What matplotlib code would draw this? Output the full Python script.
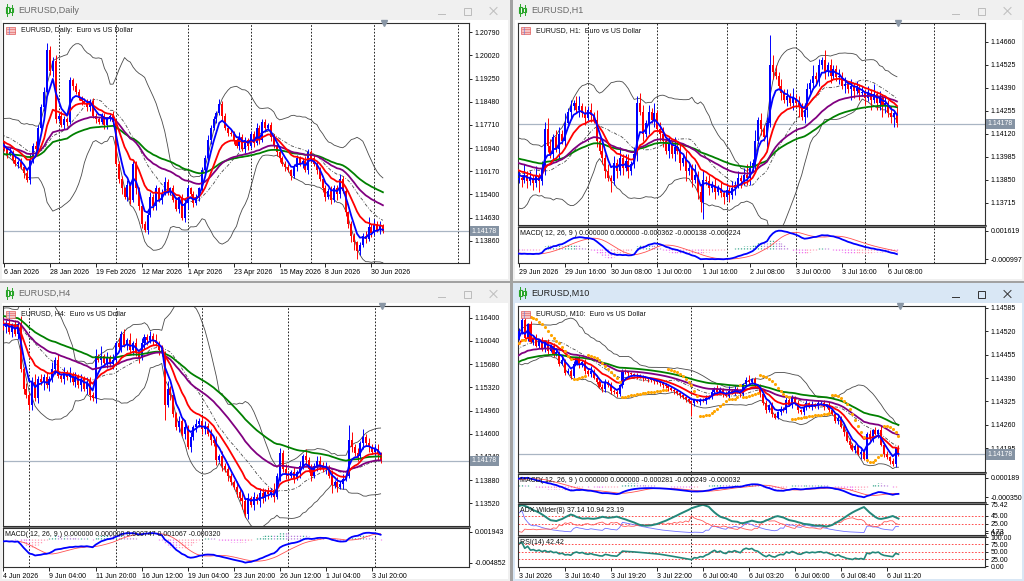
## EURUSD four-window terminal layout (Daily, H1, H4, M10)

import matplotlib
matplotlib.use('Agg')
import matplotlib.pyplot as plt
import matplotlib.transforms as mtransforms
from matplotlib.patches import Rectangle
import numpy as np
import pandas as pd

plt.rcParams['font.family'] = ['Liberation Sans', 'DejaVu Sans']

W, H = 1024, 581
PRICE_NOW = 1.14178

## Daily bars, closes in pips (1 pip = 0.0001), history before first visible bar
d1_hist = [11560, 11585, 11570, 11600, 11590, 11620, 11610, 11640, 11625, 11650,
           11630, 11660, 11655, 11680, 11670, 11700, 11690, 11710, 11700, 11735,
           11720, 11760, 11740, 11780, 11770, 11750, 11790, 11760, 11740, 11720,
           11700, 11730, 11760, 11745, 11720, 11700, 11730, 11710, 11695, 11705]
d1_close = [11690, 11672, 11680, 11655, 11640, 11648, 11630, 11612, 11588, 11655,
            11700, 11690, 11760, 11830, 11880, 12020, 11950, 11985, 11790, 11800,
            11770, 11790, 11780, 11920, 11900, 11880, 11860, 11850, 11845, 11830,
            11850, 11800, 11790, 11780, 11800, 11770, 11790, 11800, 11780, 11640,
            11590, 11560, 11530, 11570, 11520, 11640, 11560, 11500, 11440, 11420,
            11470, 11530, 11500, 11560, 11520, 11545, 11580, 11550, 11560, 11520,
            11490, 11530, 11460, 11510, 11560, 11540, 11510, 11530, 11560, 11620,
            11660, 11720, 11760, 11790, 11810, 11840, 11800, 11760, 11745, 11740,
            11720, 11700, 11730, 11690, 11720, 11700, 11740, 11710, 11760, 11720,
            11780, 11760, 11770, 11730, 11700, 11680, 11660, 11640, 11630, 11620,
            11600, 11630, 11660, 11640, 11650, 11620, 11680, 11660, 11640, 11620,
            11590, 11560, 11530, 11550, 11520, 11560, 11540, 11590, 11550, 11480,
            11440, 11400, 11380, 11350, 11370, 11400, 11390, 11430, 11410, 11440,
            11420, 11435, 11418]
d1_wick_up = "2131212123 2322342232 3212122122 1221221232 2213222122 2322123212 2123212212 2322132212 2132212232 2212212122 1221232122 2122322322 1221223623 231"
d1_wick_dn = "1212121312 2121212321 1221211212 2121122121 2312213221 2122121221 1212312122 1221212121 2121221212 1212122121 2121212212 1221213212 2344212121 121"
d1_yticks = [1.20790, 1.20020, 1.19250, 1.18480, 1.17710, 1.16940, 1.16170, 1.15400, 1.14630, 1.13860]
d1_dates = ['6 Jan 2026', '28 Jan 2026', '19 Feb 2026', '12 Mar 2026', '1 Apr 2026',
            '23 Apr 2026', '15 May 2026', '8 Jun 2026', '30 Jun 2026']
d1_grid = [19, 39, 64, 86, 107, 129, 158]

## H1 bars, closes in pips
h1_hist = [11405, 11412, 11420, 11415, 11402, 11395, 11380, 11372, 11368, 11375,
           11385, 11393, 11400, 11410, 11404, 11396, 11390, 11382, 11386, 11394,
           11398, 11392, 11388, 11385]
h1_close = [11386, 11385, 11388, 11384, 11386, 11383, 11387, 11384, 11392, 11415,
            11405, 11400, 11410, 11403, 11412, 11408, 11418, 11425, 11428, 11430,
            11426, 11428, 11424, 11421, 11426, 11423, 11420, 11408, 11402, 11398,
            11390, 11386, 11384, 11395, 11390, 11398, 11392, 11396, 11390, 11394,
            11400, 11430, 11425, 11412, 11418, 11425, 11420, 11424, 11415, 11412,
            11408, 11402, 11406, 11400, 11404, 11402, 11395, 11398, 11390, 11392,
            11385, 11388, 11378, 11372, 11385, 11384, 11380, 11382, 11378, 11380,
            11377, 11375, 11379, 11376, 11380, 11382, 11386, 11384, 11388, 11386,
            11392, 11395, 11408, 11420, 11415, 11410, 11418, 11452, 11448, 11446,
            11440, 11436, 11432, 11434, 11430, 11433, 11430, 11428, 11422, 11426,
            11438, 11442, 11446, 11444, 11452, 11455, 11448, 11452, 11446, 11450,
            11445, 11446, 11440, 11441, 11438, 11440, 11437, 11439, 11436, 11436,
            11433, 11436, 11432, 11435, 11430, 11433, 11428, 11430, 11424, 11422,
            11424, 11418]
h1_wick_up = "2131213122 3212213121 2312121312 1212131221 2232121312 2121312121 1312312121 2121212123 2131212932 1212131212 2131213121 1212121212 1213121212 12"
h1_wick_dn = "1212121312 2121312121 1212121212 2131212121 1212131212 2121212131 2123512121 1212121212 2121213121 1212121312 2121212121 1212132121 2131223212 31"
h1_yticks = [1.14660, 1.14525, 1.14390, 1.14255, 1.14120, 1.13985, 1.13850, 1.13715]
h1_dates = ['29 Jun 2026', '29 Jun 16:00', '30 Jun 08:00', '1 Jul 00:00', '1 Jul 16:00',
            '2 Jul 08:00', '3 Jul 00:00', '3 Jul 16:00', '6 Jul 08:00']
h1_grid = [24, 48, 72, 96, 120, 144]

## H4 bars, closes in pips
h4_hist = [11660, 11650, 11665, 11640, 11655, 11670, 11650, 11635, 11645, 11660,
           11640, 11620, 11630, 11600, 11610, 11625, 11640, 11650, 11630, 11615,
           11605, 11620, 11640, 11650, 11635, 11645, 11630, 11620, 11635, 11628]
h4_close = [11625, 11632, 11618, 11628, 11615, 11630, 11560, 11530, 11520, 11505,
            11540, 11515, 11545, 11540, 11548, 11535, 11545, 11560, 11575, 11550,
            11545, 11555, 11548, 11552, 11540, 11548, 11535, 11545, 11530, 11540,
            11520, 11515, 11580, 11575, 11580, 11570, 11578, 11568, 11575, 11600,
            11595, 11615, 11598, 11605, 11590, 11600, 11585, 11578, 11600, 11610,
            11605, 11612, 11606, 11600, 11590, 11585, 11505, 11530, 11520, 11490,
            11470, 11480, 11460, 11470, 11440, 11455, 11470, 11475, 11480, 11468,
            11472, 11460, 11450, 11445, 11420, 11425, 11410, 11405, 11395, 11385,
            11378, 11370, 11360, 11355, 11335, 11360, 11350, 11362, 11355, 11368,
            11360, 11370, 11366, 11372, 11362, 11395, 11430, 11405, 11398, 11395,
            11400, 11392, 11400, 11410, 11425, 11420, 11405, 11395, 11410, 11418,
            11412, 11405, 11408, 11395, 11380, 11385, 11378, 11382, 11390, 11395,
            11450, 11440, 11430, 11425, 11445, 11455, 11445, 11440, 11432, 11436,
            11428, 11418]
h4_wick_up = "2131213121 2312121312 1213121212 2131412121 2121312121 1212121312 1213121212 2121312121 1212121212 2121312121 1212131212 2121212121 6312131212 21"
h4_wick_dn = "1212121212 2121312121 1212121212 2121212121 1212121212 2121216121 1212121212 2121212121 1213121212 2121212121 1212121212 2121312121 1212121212 21"
h4_yticks = [1.16400, 1.16040, 1.15680, 1.15320, 1.14960, 1.14600, 1.14240, 1.13880, 1.13520]
h4_dates = ['4 Jun 2026', '9 Jun 04:00', '11 Jun 20:00', '16 Jun 12:00', '19 Jun 04:00',
            '23 Jun 20:00', '26 Jun 12:00', '1 Jul 04:00', '3 Jul 20:00']
h4_grid = [9, 39, 69, 99, 129]

## M10 bars, closes in points (1 point = 0.00001)
m10_hist = [114380, 114392, 114386, 114400, 114412, 114405, 114418, 114426, 114420, 114434,
            114440, 114436, 114448, 114455, 114446, 114458, 114462, 114452, 114460, 114470,
            114462, 114475, 114480, 114468, 114478, 114490, 114482, 114495, 114505, 114500]
m10_close = [114520, 114550, 114500, 114540, 114490, 114500, 114480, 114495, 114470, 114490,
             114465, 114480, 114455, 114462, 114430, 114440, 114405, 114410, 114395, 114430,
             114445, 114425, 114435, 114410, 114400, 114410, 114390, 114380, 114365, 114360,
             114380, 114370, 114355, 114350, 114345, 114370, 114410, 114406, 114404, 114401,
             114399, 114396, 114394, 114391, 114389, 114386, 114384, 114381, 114378, 114375,
             114371, 114367, 114363, 114358, 114353, 114348, 114343, 114337, 114331, 114326,
             114320, 114328, 114324, 114330, 114327, 114335, 114340, 114352, 114362, 114350,
             114358, 114345, 114340, 114355, 114350, 114360, 114352, 114345, 114372, 114385,
             114378, 114386, 114370, 114365, 114345, 114320, 114300, 114315, 114290, 114280,
             114295, 114305, 114300, 114330, 114315, 114335, 114320, 114300, 114295, 114310,
             114320, 114310, 114318, 114312, 114320, 114322, 114310, 114315, 114300, 114290,
             114270, 114280, 114255, 114240, 114215, 114205, 114190, 114200, 114180, 114185,
             114165, 114235, 114220, 114245, 114235, 114245, 114205, 114180, 114170, 114160,
             114150, 114195, 114178]
m10_wick_up = "2321213121 2123121212 1212131212 2121211111 1111111111 1111111111 1111121212 2123121212 3121212121 1212121212 2121212121 1212121212 2131213121 212"
m10_wick_dn = "1212121212 2121212121 1212121212 2121212121 1212121212 2121212121 9212121212 1212121212 2121212121 1212121212 2121212121 1213121214 1212131212 121"
m10_yticks = [1.14585, 1.14520, 1.14455, 1.14390, 1.14325, 1.14260, 1.14195]
m10_dates = ['3 Jul 2026', '3 Jul 16:40', '3 Jul 19:20', '3 Jul 22:00', '6 Jul 00:40',
             '6 Jul 03:20', '6 Jul 06:00', '6 Jul 08:40', '6 Jul 11:20']
m10_grid = [60]


## Bars and indicators
def make_bars(hist, close, wick_up, wick_dn, unit, scale):
    c = np.array(hist + close, dtype=float) / scale
    o = np.r_[c[0], c[:-1]]
    wu = np.r_[np.zeros(len(hist)), [int(v) for v in wick_up.replace(' ', '')]] * unit / scale
    wd = np.r_[np.zeros(len(hist)), [int(v) for v in wick_dn.replace(' ', '')]] * unit / scale
    df = pd.DataFrame({'o': o, 'c': c,
                       'h': np.maximum(o, c) + wu, 'l': np.minimum(o, c) - wd},
                      index=np.arange(len(c)) - len(hist))
    cl = df['c']
    for n in (5, 13, 34, 55):
        df['ema%d' % n] = cl.ewm(span=n, adjust=False).mean()
    df['mid'] = cl.rolling(20, min_periods=1).mean()
    sd = cl.rolling(20, min_periods=1).std(ddof=0)
    df['bb_up'] = df['mid'] + 2 * sd
    df['bb_dn'] = df['mid'] - 2 * sd
    df['macd'] = cl.ewm(span=12, adjust=False).mean() - cl.ewm(span=26, adjust=False).mean()
    df['signal'] = df['macd'].rolling(9, min_periods=1).mean()
    df['hist'] = df['macd'] - df['signal']
    return df


def psar(h, l, step=0.02, top=0.2):
    n = len(h)
    sar = np.zeros(n)
    bull, af, ep = True, step, h[0]
    sar[0] = l[0]
    for i in range(1, n):
        s = sar[i - 1] + af * (ep - sar[i - 1])
        if bull:
            s = min(s, l[i - 1], l[max(i - 2, 0)])
            if l[i] < s:
                bull, s, ep, af = False, ep, l[i], step
            elif h[i] > ep:
                ep, af = h[i], min(af + step, top)
        else:
            s = max(s, h[i - 1], h[max(i - 2, 0)])
            if h[i] > s:
                bull, s, ep, af = True, ep, h[i], step
            elif l[i] < ep:
                ep, af = l[i], min(af + step, top)
        sar[i] = s
    return sar


def adx_wilder(df, n=8):
    h, l, c = df['h'], df['l'], df['c']
    up = h.diff()
    dn = -l.diff()
    pdm = pd.Series(np.where((up > dn) & (up > 0), up, 0.0), index=df.index)
    ndm = pd.Series(np.where((dn > up) & (dn > 0), dn, 0.0), index=df.index)
    tr = pd.concat([h - l, (h - c.shift()).abs(), (l - c.shift()).abs()], axis=1).max(axis=1)
    a = 1.0 / n
    atr = tr.ewm(alpha=a, adjust=False).mean()
    pdi = 100 * pdm.ewm(alpha=a, adjust=False).mean() / atr
    ndi = 100 * ndm.ewm(alpha=a, adjust=False).mean() / atr
    dx = 100 * (pdi - ndi).abs() / (pdi + ndi).replace(0, np.nan)
    adx = dx.fillna(0).ewm(alpha=a, adjust=False).mean()
    return adx, pdi, ndi


def rsi(c, n=14):
    d = c.diff()
    g = d.clip(lower=0).ewm(alpha=1.0 / n, adjust=False).mean()
    ls = (-d.clip(upper=0)).ewm(alpha=1.0 / n, adjust=False).mean()
    return 100 - 100 / (1 + g / ls.replace(0, np.nan))


d1 = make_bars(d1_hist, d1_close, d1_wick_up, d1_wick_dn, 6, 1e4)
h1 = make_bars(h1_hist, h1_close, h1_wick_up, h1_wick_dn, 2, 1e4)
h4 = make_bars(h4_hist, h4_close, h4_wick_up, h4_wick_dn, 4, 1e4)
m10 = make_bars(m10_hist, m10_close, m10_wick_up, m10_wick_dn, 4, 1e5)

## Figure, window frames
fig = plt.figure(figsize=(W / 100, H / 100), dpi=100)
bg = fig.add_axes([0, 0, 1, 1])
bg.set_xlim(0, W)
bg.set_ylim(H, 0)
bg.axis('off')
bg.add_patch(Rectangle((0, 0), W, H, facecolor='#a2a2a2', edgecolor='none'))


def window(x0, y0, x1, y1, title, active=False):
    bar = '#d9e7f5' if active else '#f0f0f0'
    btn = '#333333' if active else '#bcbcbc'
    bg.add_patch(Rectangle((x0, y0), x1 - x0, y1 - y0, facecolor=bar, edgecolor='none'))
    bg.add_patch(Rectangle((x0 + 2, y0 + 20), x1 - x0 - 4, y1 - y0 - 22,
                           facecolor='white', edgecolor='none'))
    g = '#28a428'
    for dx, (t, b, bt, bb) in ((7, (4, 16, 7, 13)), (11.5, (5, 15, 8, 12))):
        bg.plot([x0 + dx, x0 + dx], [y0 + t, y0 + b], color=g, lw=0.7)
        bg.add_patch(Rectangle((x0 + dx - 1.5, y0 + bt), 3, bb - bt,
                               facecolor='white', edgecolor=g, lw=0.8))
    bg.text(x0 + 18, y0 + 10.5, title, fontsize=6.5, va='center',
            color='#222222' if active else '#6a6a6a')
    cy = y0 + 11
    bg.plot([x1 - 72, x1 - 65], [cy + 3, cy + 3], color=btn, lw=0.7)
    bg.add_patch(Rectangle((x1 - 46, cy - 3.5), 7, 7, fill=False, edgecolor=btn, lw=0.7))
    bg.plot([x1 - 20, x1 - 13], [cy - 3.5, cy + 3.5], color=btn, lw=0.7)
    bg.plot([x1 - 20, x1 - 13], [cy + 3.5, cy - 3.5], color=btn, lw=0.7)


window(0, 0, 510, 281, 'EURUSD,Daily')
window(513, 0, 1024, 281, 'EURUSD,H1')
window(0, 283, 510, 581, 'EURUSD,H4')
window(513, 283, 1024, 581, 'EURUSD,M10', active=True)

# separators between main chart and indicator sub-windows
for x0, x1, ya, yb in ((518, 987, 225, 227), (3, 471, 526, 528),
                       (518, 987, 472, 474), (518, 987, 502, 504), (518, 987, 535, 537)):
    bg.add_patch(Rectangle((x0, ya), x1 - x0, yb - ya, facecolor='#7a7a7a', edgecolor='none'))


def px_axes(x0, y0, x1, y1, xlim, grid):
    ax = fig.add_axes([x0 / W, 1 - y1 / H, (x1 - x0) / W, (y1 - y0) / H])
    for s in ax.spines.values():
        s.set_color('#303030')
        s.set_linewidth(0.8)
    ax.yaxis.tick_right()
    ax.tick_params(axis='both', labelsize=5, length=2.5, width=0.6, pad=1.5)
    ax.set_xlim(*xlim)
    ax.set_xticks([])
    for g in grid:
        ax.axvline(g, color='black', lw=0.6, ls=(0, (2, 2)), zorder=1)
    return ax


def date_axis(ax, labels):
    ax.set_xticks(range(0, 16 * len(labels), 16))
    ax.set_xticklabels(labels, ha='left')
    ax.tick_params(axis='x', length=3, width=0.6, pad=1.5, labelsize=5)


def main_chart(box, df, xlim, ylim, yticks, grid, sar=False):
    ax = px_axes(*box, xlim, grid)
    ax.set_ylim(*ylim)
    ax.axhline(PRICE_NOW, color='#a9b5c3', lw=0.9, zorder=1)
    ax.plot(df.index, df['bb_up'], color='#4a4a4a', lw=0.6, zorder=2)
    ax.plot(df.index, df['bb_dn'], color='#4a4a4a', lw=0.6, zorder=2)
    ax.plot(df.index, df['mid'], color='#4a4a4a', lw=0.6, ls=(0, (4, 2, 1, 2)), zorder=2)
    vis = df.loc[0:]
    col = np.where(vis['c'] >= vis['o'], '#0000ff', '#ff0000')
    ax.vlines(vis.index, vis['l'], vis['h'], colors=col, lw=0.7, zorder=3)
    tiny = (ylim[1] - ylim[0]) * 0.004
    ax.bar(vis.index, np.maximum((vis['c'] - vis['o']).abs(), tiny),
           bottom=np.minimum(vis['o'], vis['c']), width=0.7, color=col, lw=0, zorder=3)
    ax.plot(df.index, df['ema55'], color='#008000', lw=1.3, zorder=4)
    ax.plot(df.index, df['ema34'], color='#800080', lw=1.3, zorder=4)
    ax.plot(df.index, df['ema13'], color='#ff0000', lw=1.3, zorder=4)
    ax.plot(df.index, df['ema5'], color='#0000ff', lw=1.3, zorder=4)
    if sar:
        s = psar(df['h'].values, df['l'].values)
        ax.scatter(df.index, s, s=5, color='#ffa500', lw=0, zorder=5)
    ax.set_yticks(yticks)
    ax.set_yticklabels(['%.5f' % v for v in yticks])
    tr = mtransforms.blended_transform_factory(ax.transAxes, ax.transData)
    ax.text(1.006, PRICE_NOW, '1.14178', transform=tr, ha='left', va='center', fontsize=5,
            color='white', clip_on=False, zorder=6,
            bbox=dict(boxstyle='square,pad=0.25', fc='#8593a3', ec='none'))
    ax.plot([vis.index[-1] + 0.5], [ylim[1]], marker='v', ms=4, color='#8a97a6',
            clip_on=False, zorder=6)
    return ax


def macd_chart(box, df, xlim, labels, grid, pad_top, pad_bot):
    # the sub-window scales itself to the visible max / min, as the terminal does
    ax = px_axes(*box, xlim, grid)
    vis = df.loc[0:]
    vmax = vis[['macd', 'signal', 'hist']].max().max()
    vmin = vis[['macd', 'signal', 'hist']].min().min()
    span = vmax - vmin
    ax.set_ylim(vmin - pad_bot * span, vmax + pad_top * span)
    h = df['hist']
    rising = h.diff().fillna(0) >= 0
    col = np.where(h >= 0, np.where(rising, '#3aa88f', '#b77fdb'),
                   np.where(rising, '#ff9bb5', '#ee70ee'))
    ax.vlines(df.index, 0, h, colors=col, lw=0.9, linestyles=(0, (1, 1)), zorder=2)
    ax.plot(df.index, df['signal'], color='#ff5050', lw=0.6, zorder=3)
    ax.plot(df.index, df['macd'], color='#0000ff', lw=1.3, zorder=4)
    ax.set_yticks([vmax, vmin])
    ax.set_yticklabels(labels)
    return ax


## Daily
ax = main_chart((3, 23, 469, 263), d1, (-0.35, 162.0), (1.13117, 1.21100), d1_yticks, d1_grid)
date_axis(ax, d1_dates)

## H1
main_chart((518, 23, 985, 225), h1, (-0.24, 161.5), (1.13585, 1.14769), h1_yticks, h1_grid)
ax = macd_chart((518, 227, 985, 263), h1, (-0.24, 161.5), ['0.001619', '-0.000997'],
                h1_grid, 0.13, 0.13)
date_axis(ax, h1_dates)

## H4
main_chart((3, 306, 469, 526), h4, (-0.14, 161.7), (1.13169, 1.16581), h4_yticks, h4_grid)
ax = macd_chart((3, 528, 469, 567), h4, (-0.14, 161.7), ['0.001943', '-0.004852'],
                h4_grid, 0.12, 0.14)
date_axis(ax, h4_dates)

## M10 with parabolic SAR, MACD, ADX and RSI
m10_xlim = (-0.35, 162.1)
main_chart((518, 306, 985, 472), m10, m10_xlim, (1.14129, 1.14590), m10_yticks, m10_grid, sar=True)
macd_chart((518, 474, 985, 502), m10, m10_xlim, ['0.000189', '-0.000350'], m10_grid, 0.19, 0.24)

adx, pdi, ndi = adx_wilder(m10)
ax = px_axes(518, 504, 985, 535, m10_xlim, m10_grid)
ax.set_ylim(-4.5, 76)
for lv in (45, 25):
    ax.axhline(lv, color='#ff3030', lw=0.6, ls=(0, (2, 2)), zorder=1)
ax.plot(m10.index, pdi, color='#6f6fff', lw=0.6)
ax.plot(m10.index, ndi, color='#ff5a5a', lw=0.6)
ax.plot(m10.index, adx, color='#23877a', lw=1.4)
adx_ticks = [75.42, 45.00, 25.00, 4.73, 0.00]
ax.set_yticks(adx_ticks)
ax.set_yticklabels(['%.2f' % v for v in adx_ticks])

ax = px_axes(518, 537, 985, 567, m10_xlim, m10_grid)
ax.set_ylim(-2, 100)
for lv in (75, 50, 25):
    ax.axhline(lv, color='#ff3030', lw=0.6, ls=(0, (2, 2)), zorder=1)
ax.plot(m10.index, rsi(m10['c']), color='#23877a', lw=1.2)
rsi_ticks = [100, 75, 50, 25, 0]
ax.set_yticks(rsi_ticks)
ax.set_yticklabels(['%.2f' % v for v in rsi_ticks])
date_axis(ax, m10_dates)

## Texts drawn above the charts
top = fig.add_axes([0, 0, 1, 1], zorder=10)
top.set_xlim(0, W)
top.set_ylim(H, 0)
top.axis('off')

headers = [(6, 30.5, 'EURUSD, Daily:  Euro vs US Dollar'),
           (521, 30.5, 'EURUSD, H1:  Euro vs US Dollar'),
           (6, 314, 'EURUSD, H4:  Euro vs US Dollar'),
           (521, 314, 'EURUSD, M10:  Euro vs US Dollar')]
for x, y, t in headers:
    top.add_patch(Rectangle((x, y - 3.5), 9, 7, facecolor='#f6c2c2', edgecolor='#e05a5a', lw=0.5))
    for yy in (y - 1.2, y + 1.2):
        top.plot([x + 0.5, x + 8.5], [yy, yy], color='#e05a5a', lw=0.4)
    top.plot([x + 3, x + 3], [y - 3.5, y + 3.5], color='#5a7ae0', lw=0.4)
    top.text(x + 15, y, t, fontsize=5, va='center', color='#111111')

sub_texts = [(520, 233.7, 'MACD( 12, 26, 9 ) 0.000000 0.000000 -0.000362 -0.000138 -0.000224'),
             (5, 534.3, 'MACD( 12, 26, 9 ) 0.000000 0.000000 0.000747 0.001067 -0.000320'),
             (520, 480, 'MACD( 12, 26, 9 ) 0.000000 0.000000 -0.000281 -0.000249 -0.000032'),
             (520, 510, 'ADX Wilder(8) 37.14 10.94 23.19'),
             (520, 542.7, 'RSI(14) 42.42')]
for x, y, t in sub_texts:
    top.text(x, y, t, fontsize=5, va='center', color='#111111')

fig.savefig('out.png', dpi=100)
